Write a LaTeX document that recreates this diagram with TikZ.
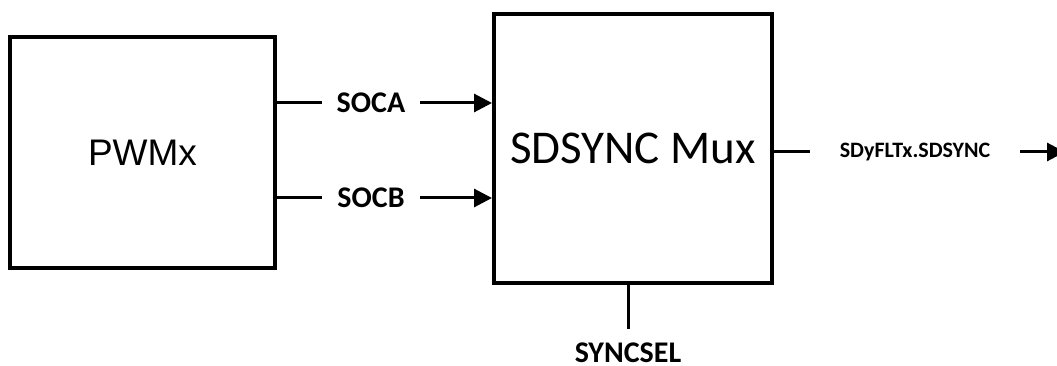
\documentclass[tikz,border=0pt]{standalone}
\usepackage{fontspec}
\setmainfont{Carlito}
\newfontfamily\arialfont{Liberation Sans}
\usetikzlibrary{arrows.meta,positioning}

\begin{document}
\begin{tikzpicture}[
    x=1pt, y=-1pt,
    block/.style={draw, line width=4pt, rectangle, inner sep=0pt},
    sig/.style={font=\fontsize{30}{30}\selectfont\bfseries, inner xsep=15pt, inner ysep=0pt},
    wire/.style={line width=3pt},
    arr/.style={wire, -{Triangle[length=18pt, width=18pt]}}
]
    \useasboundingbox (0,0) rectangle (1057,366);

    \node[block, minimum width=265pt, minimum height=231pt] (pwm) at (142.5,152.5)
        {\arialfont\fontsize{37}{37}\selectfont PWMx};
    \node[block, minimum width=278pt, minimum height=269pt] (mux) at (633,148.5)
        {\fontsize{47}{47}\selectfont SDSYNC Mux};

    \node[sig] (soca) at (371,103) {SOCA};
    \node[sig] (socb) at (371,198) {SOCB};
    \node[sig, font=\fontsize{22}{22}\selectfont\bfseries, inner xsep=30pt] (sdsync) at (915,152) {SDyFLTx.SDSYNC};
    \coordinate (outend) at (1065,152);

    \coordinate (selend) at (628,329);
    \node[sig, anchor=north, inner ysep=0pt] (syncsel) at (628,343) {SYNCSEL};

    \draw[wire] (pwm.east |- soca) -- (soca);
    \draw[arr] (soca) -- (mux.west |- soca);
    \draw[wire] (pwm.east |- socb) -- (socb);
    \draw[arr] (socb) -- (mux.west |- socb);
    \draw[wire] (mux.east |- sdsync) -- (sdsync);
    \draw[arr] (sdsync) -- (outend);
    \draw[wire] (mux.south -| selend) -- (selend);
\end{tikzpicture}
\end{document}
